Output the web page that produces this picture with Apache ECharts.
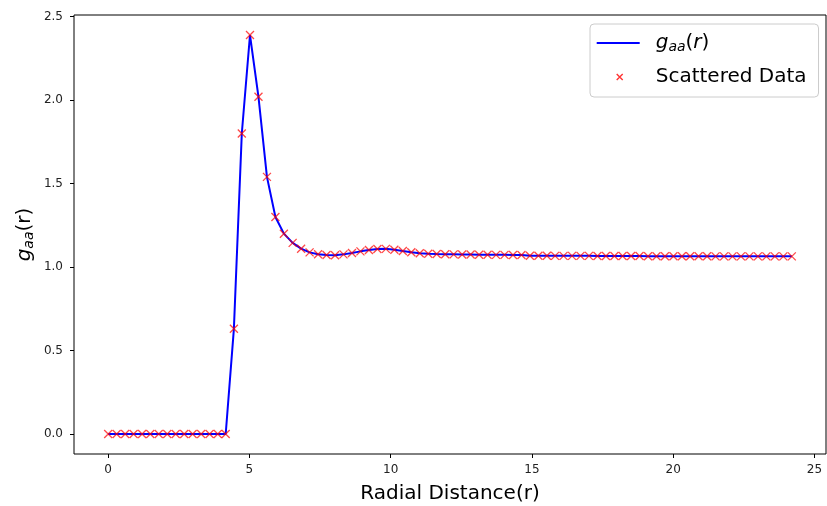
<!DOCTYPE html>
<html>
<head>
<meta charset="utf-8">
<script src="https://cdn.jsdelivr.net/npm/echarts@6/dist/echarts.min.js"></script>
<style>
html,body{margin:0;padding:0;background:#fff;}
#chart{width:827px;height:506px;}
</style>
</head>
<body>
<div id="chart"></div>
<script>
// Radial distance of each sample
var radialDistance = [
  0.00, 0.30, 0.60, 0.90, 1.20, 1.49, 1.79, 2.09, 2.39, 2.69,
  2.99, 3.29, 3.59, 3.88, 4.16, 4.45, 4.73, 5.02, 5.32, 5.62,
  5.92, 6.22, 6.53, 6.83, 7.13, 7.43, 7.73, 8.03, 8.33, 8.63,
  8.93, 9.23, 9.53, 9.83, 10.13, 10.43, 10.73, 11.03, 11.33, 11.63,
  11.93, 12.23, 12.53, 12.83, 13.13, 13.43, 13.73, 14.03, 14.33, 14.63,
  14.93, 15.23, 15.53, 15.82, 16.12, 16.42, 16.72, 17.02, 17.32, 17.62,
  17.92, 18.21, 18.51, 18.81, 19.11, 19.41, 19.71, 20.01, 20.31, 20.60,
  20.90, 21.20, 21.50, 21.80, 22.10, 22.40, 22.70, 23.00, 23.30, 23.60,
  23.90, 24.20
];
// g_aa(r) values
var gaaValues = [
  0, 0, 0, 0, 0, 0, 0, 0, 0, 0,
  0, 0, 0, 0, 0, 0.63, 1.80, 2.39, 2.02, 1.54,
  1.30, 1.20, 1.145, 1.11, 1.088, 1.077, 1.072, 1.071, 1.076, 1.084,
  1.094, 1.102, 1.108, 1.109, 1.104, 1.096, 1.089, 1.083, 1.080, 1.078,
  1.077, 1.076, 1.075, 1.075, 1.074, 1.074, 1.073, 1.073, 1.072, 1.072,
  1.068, 1.068, 1.068, 1.067, 1.067, 1.067, 1.067, 1.067, 1.066, 1.066,
  1.066, 1.066, 1.066, 1.066, 1.065, 1.065, 1.065, 1.065, 1.065, 1.065,
  1.065, 1.065, 1.064, 1.064, 1.064, 1.064, 1.064, 1.064, 1.064, 1.064,
  1.064, 1.064
];
var xTicks = [0, 5, 10, 15, 20, 25];
var yTicks = [0.0, 0.5, 1.0, 1.5, 2.0, 2.5];
var xLimits = [-1.21, 25.41];
var yLimits = [-0.12, 2.51];
var xTitle = 'Radial Distance(r)';
var lineName = 'gaa';
var scatterName = 'Scattered Data';

var points = radialDistance.map(function (r, i) { return [r, gaaValues[i]]; });

var FONT = 'DejaVu Sans';
var chart = echarts.init(document.getElementById('chart'), null, {renderer: 'canvas'});
var xMarker = 'path://M0,0L10,10M10,0L0,10';
var richMath = {
  it: {fontFamily: FONT, fontSize: 20, fontStyle: 'italic', color: '#000'},
  sub: {fontFamily: FONT, fontSize: 14, fontStyle: 'italic', color: '#000', padding: [9, 0, 0, 0]},
  n: {fontFamily: FONT, fontSize: 20, color: '#000'}
};
var option = {
  animation: false,
  backgroundColor: '#ffffff',
  grid: {
    left: 74, right: 1, top: 15, bottom: 52,
    show: true, borderColor: '#000', borderWidth: 1,
    containLabel: false, outerBoundsMode: 'none'
  },
  xAxis: {
    type: 'value', min: xLimits[0], max: xLimits[1],
    splitLine: {show: false},
    axisLine: {show: false, onZero: false},
    axisTick: {show: true, inside: false, length: 4, customValues: xTicks, lineStyle: {color: '#000', width: 1}},
    axisLabel: {customValues: xTicks, color: '#222', fontFamily: FONT, fontSize: 12, margin: 10},
    name: xTitle, nameLocation: 'middle', nameGap: 28, nameMoveOverlap: false,
    nameTextStyle: {fontFamily: FONT, fontSize: 20, color: '#000', lineHeight: 24}
  },
  yAxis: {
    type: 'value', min: yLimits[0], max: yLimits[1],
    splitLine: {show: false},
    axisLine: {show: false, onZero: false},
    axisTick: {show: true, inside: false, length: 4, customValues: yTicks, lineStyle: {color: '#000', width: 1}},
    axisLabel: {customValues: yTicks, color: '#222', fontFamily: FONT, fontSize: 12, margin: 11,
      formatter: function (v) { return v.toFixed(1); }},
    name: '{it|g}{sub|aa}{n|(r)}', nameLocation: 'middle', nameGap: 37, nameRotate: 90, nameMoveOverlap: false,
    nameTextStyle: {fontFamily: FONT, fontSize: 20, color: '#000', lineHeight: 24, rich: richMath}
  },
  legend: {
    orient: 'vertical', left: 590, top: 24,
    padding: [7, 12, 8, 6],
    itemGap: 10, itemWidth: 54, itemHeight: 14,
    backgroundColor: 'rgba(255,255,255,0.8)',
    borderColor: '#cccccc', borderWidth: 1, borderRadius: 4,
    textStyle: {fontFamily: FONT, fontSize: 20, color: '#000', lineHeight: 24, rich: richMath},
    formatter: function (name) {
      return name === lineName ? '{it|g}{sub|aa}{n|(}{it|r}{n|)}' : name;
    },
    data: [
      {name: lineName, icon: 'path://M0,0M54,14M0,6L43,6L43,8L0,8Z',
        itemStyle: {color: '#0000ff', borderWidth: 0}},
      {name: scatterName, icon: 'path://M0,0M54,14M20,4L26,10M26,4L20,10',
        itemStyle: {color: 'rgba(0,0,0,0)', borderColor: 'rgba(255,0,0,0.8)', borderWidth: 1.4}}
    ]
  },
  series: [
    {
      name: lineName, type: 'line', data: points,
      showSymbol: false, symbol: 'none', smooth: false,
      lineStyle: {color: '#0000ff', width: 2},
      itemStyle: {color: '#0000ff'},
      z: 2
    },
    {
      name: scatterName, type: 'scatter', data: points,
      symbol: xMarker, symbolSize: 8,
      itemStyle: {color: 'rgba(0,0,0,0)', borderColor: 'rgba(255,0,0,0.72)', borderWidth: 1.3, opacity: 1},
      z: 3
    }
  ]
};
chart.setOption(option);
</script>
</body>
</html>
